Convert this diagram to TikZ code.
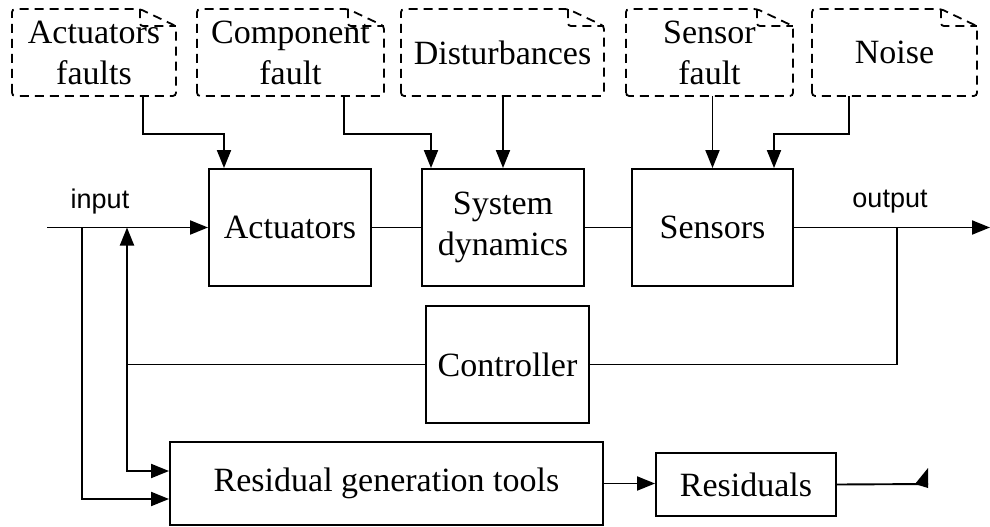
\documentclass[tikz,border=0pt]{standalone}
\usepackage{fontspec}
\setmainfont{Liberation Serif}
\setsansfont{Liberation Sans}
\usetikzlibrary{arrows.meta}

\begin{document}
\begin{tikzpicture}[%
x=1pt,y=-1pt,
line width=1.9pt,
>={Triangle[length=18pt,width=14pt]},
block/.style={draw,rectangle,align=center,inner sep=0pt,font=\fontsize{34}{41}\selectfont},
faultnote/.style={rectangle,align=center,inner sep=0pt,minimum height=85pt,font=\fontsize{34}{41}\selectfont},
noteline/.style={line width=1.8pt,dash pattern=on 9pt off 6pt,rounded corners=3pt},
sig/.style={font=\fontsize{27}{32}\selectfont\sffamily},
]
\useasboundingbox (0,0) rectangle (990,527);
%% fault sources;
\node[faultnote,minimum width=162pt] (af) at (94,52.5) {Actuators\\faults};
\node[faultnote,minimum width=185pt] (cf) at (290.5,52.5) {Component\\fault};
\node[faultnote,minimum width=201pt] (dist) at (502.5,52.5) {Disturbances};
\node[faultnote,minimum width=165pt] (sf) at (709.5,52.5) {Sensor\\fault};
\node[faultnote,minimum width=163pt] (noise) at (894.5,52.5) {Noise};
\foreach \n in {af,cf,dist,sf,noise} {
  \draw[noteline] (\n.south west) -- (\n.north west) -- ([xshift=-36pt]\n.north east)
    -- ([yshift=-17pt]\n.north east) -- (\n.south east) -- cycle;
  \draw[noteline] ([xshift=-36pt]\n.north east) |- ([yshift=-17pt]\n.north east);
}
%% blocks;
\node[block,minimum width=162pt,minimum height=117pt] (act) at (290,227.5) {Actuators};
\node[block,minimum width=162pt,minimum height=117pt] (sys) at (503,227.5) {System\\dynamics};
\node[block,minimum width=161pt,minimum height=117pt] (sens) at (712.5,227.5) {Sensors};
\node[block,minimum width=163pt,minimum height=117pt] (ctrl) at (507.5,364.5) {Controller};
\node[block,minimum width=433pt,minimum height=83pt] (res) at (386.5,483.5) {Residual generation tools};
\node[block,minimum width=180pt,minimum height=63pt] (resid) at (746,484.5) {Residuals};
%% labels;
\node[sig] (inlbl) at (100,202) {input};
\node[sig] (outlbl) at (890,202) {output};
%% signal points;
\coordinate (in) at (47,227.5);
\coordinate (tap) at (82,227.5);
\coordinate (fbk) at (127,227.5);
\coordinate (otap) at (897,227.5);
\coordinate (out) at (990,227.5);
\coordinate (rout) at (928,484);
%% fault arrows;
\draw[->] ([xshift=49pt]af.south) -- ++(0,38) -| ([xshift=-66pt]act.north);
\draw[->] ([xshift=53.5pt]cf.south) -- ++(0,38) -| ([xshift=-72pt]sys.north);
\draw[->] (dist.south -| sys.north) -- (sys.north);
\draw[->] (sens.north |- sf.south) -- (sens.north);
\draw[->] ([xshift=-45.5pt]noise.south) -- ++(0,38) -| ([xshift=61.5pt]sens.north);
%% main loop;
\draw[->] (in) -- (act.west);
\draw (act.east) -- (sys.west);
\draw (sys.east) -- (sens.west);
\draw[->] (sens.east) -- (out);
\draw (otap) |- (ctrl.east);
\draw[->] (ctrl.west) -| (fbk);
\draw[->] (ctrl.west -| fbk) |- ([yshift=12.5pt]res.west);
\draw[->] (tap) |- ([yshift=-15.5pt]res.west);
%% residuals;
\draw[->] (res.east) -- (resid.west |- res.east);
\draw (resid.east) -- (rout);
\fill ([xshift=-13pt]rout) -- ([yshift=16pt]rout) -- ([yshift=-4pt]rout) -- cycle;
\end{tikzpicture}
\end{document}
